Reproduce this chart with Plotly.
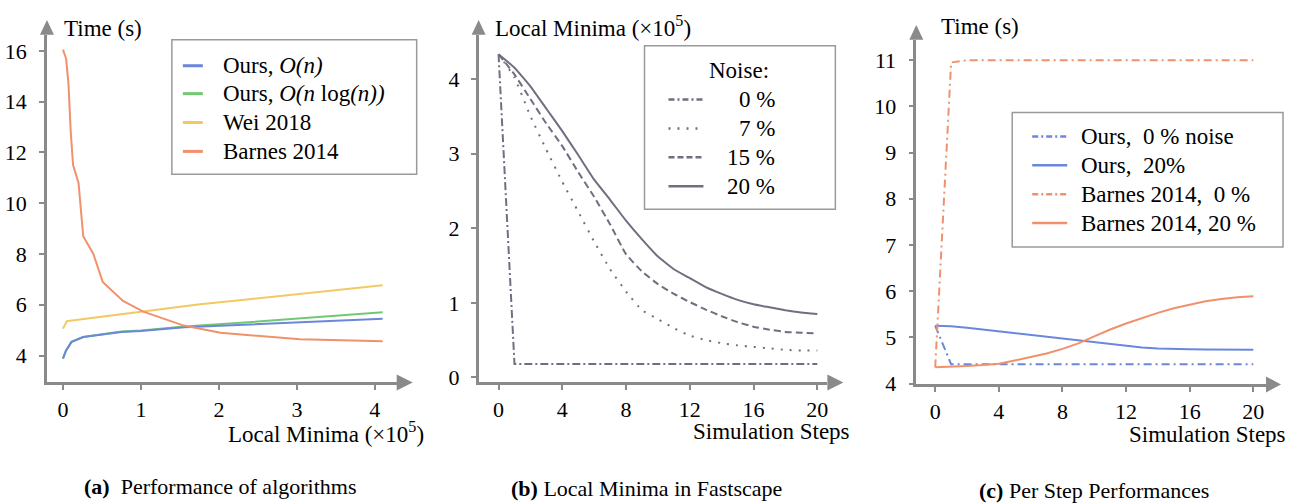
import plotly.graph_objects as go

# ---------------- data ----------------
# (a) Performance of algorithms: x = local minima (x1e5), y = time (s)
a_ours_n_x = [0, 0.04, 0.11, 0.26, 0.75, 1.0, 1.56, 2.33, 4.1]
a_ours_n_y = [3.88, 4.2, 4.54, 4.73, 4.93, 4.97, 5.11, 5.21, 5.45]
a_ours_nlogn_x = [0, 0.04, 0.11, 0.26, 0.75, 1.0, 1.56, 2.33, 4.1]
a_ours_nlogn_y = [3.88, 4.2, 4.54, 4.73, 4.95, 4.99, 5.14, 5.30, 5.71]
a_wei_x = [0, 0.05, 0.24, 0.75, 1.01, 1.76, 2.33, 4.1]
a_wei_y = [5.06, 5.35, 5.43, 5.62, 5.73, 6.02, 6.20, 6.77]
a_barnes_x = [0, 0.04, 0.07, 0.1, 0.13, 0.2, 0.26, 0.39, 0.51, 0.77, 1.03, 1.55, 2.02, 3.04, 4.1]
a_barnes_y = [16.05, 15.7, 14.75, 12.8, 11.5, 10.8, 8.7, 8.0, 6.9, 6.15, 5.73, 5.18, 4.9, 4.64, 4.56]

# (b) Local minima in Fastscape: x = simulation step, y = local minima (x1e5)
steps = list(range(21))
b_noise0 = [4.33, 0.18, 0.18, 0.18, 0.18, 0.18, 0.18, 0.18, 0.18, 0.18, 0.18,
            0.18, 0.18, 0.18, 0.18, 0.18, 0.18, 0.18, 0.18, 0.18, 0.18]
b_noise7 = [4.33, 4.02, 3.50, 3.05, 2.62, 2.22, 1.82, 1.45, 1.15, 0.90, 0.78,
            0.66, 0.56, 0.50, 0.46, 0.43, 0.41, 0.39, 0.37, 0.36, 0.36]
b_noise15 = [4.33, 4.06, 3.73, 3.40, 3.10, 2.75, 2.42, 2.05, 1.65, 1.42, 1.25,
             1.12, 1.01, 0.91, 0.82, 0.74, 0.68, 0.64, 0.61, 0.60, 0.59]
b_noise20 = [4.33, 4.15, 3.90, 3.60, 3.30, 2.98, 2.65, 2.38, 2.10, 1.85, 1.62,
             1.45, 1.33, 1.21, 1.12, 1.04, 0.98, 0.94, 0.90, 0.87, 0.85]

# (c) Per step performances: x = simulation step, y = time (s)
c_ours0 = [5.25, 4.42, 4.42, 4.42, 4.42, 4.42, 4.42, 4.42, 4.42, 4.42, 4.42,
           4.42, 4.42, 4.42, 4.42, 4.42, 4.42, 4.42, 4.42, 4.42, 4.42]
c_ours20 = [5.25, 5.24, 5.21, 5.17, 5.13, 5.09, 5.05, 5.01, 4.97, 4.93, 4.89,
            4.85, 4.81, 4.78, 4.76, 4.745, 4.74, 4.735, 4.73, 4.73, 4.73]
c_barnes0 = [4.35, 10.95, 11.0, 11.0, 11.0, 11.0, 11.0, 11.0, 11.0, 11.0, 11.0,
             11.0, 11.0, 11.0, 11.0, 11.0, 11.0, 11.0, 11.0, 11.0, 11.0]
c_barnes20 = [4.35, 4.36, 4.38, 4.40, 4.43, 4.50, 4.57, 4.65, 4.75, 4.87, 5.02,
              5.17, 5.30, 5.42, 5.53, 5.63, 5.71, 5.78, 5.83, 5.87, 5.89]

legend_a = ["Ours, <i>O(n)</i>", "Ours, <i>O(n</i> log<i>(n))</i>", "Wei 2018", "Barnes 2014"]
legend_b = ["0 %", "7 %", "15 %", "20 %"]
legend_c = ["Ours,\u00a0 0 % noise", "Ours,\u00a0 20%", "Barnes 2014,\u00a0 0 %", "Barnes 2014, 20 %"]

# ---------------- style ----------------
W, H = 1292, 503      # reference pixel grid used for placement (as fractions)
FIG_H = 513           # figure height
FONT = "Liberation Serif, Times New Roman, serif"
AX = "#8a8a8a"
BLUE = "#6b87dc"
GREEN = "#72c872"
YELLOW = "#f2c963"
ORANGE = "#f0916c"
GREY = "#6f6f80"

def fx(x):
    return x / W

def fy(y):
    return 1 - y / H

fig = go.Figure()

# panel a
fig.add_trace(go.Scatter(x=a_ours_nlogn_x, y=a_ours_nlogn_y, mode="lines", line=dict(color=GREEN, width=2), xaxis="x", yaxis="y"))
fig.add_trace(go.Scatter(x=a_ours_n_x, y=a_ours_n_y, mode="lines", line=dict(color=BLUE, width=2), xaxis="x", yaxis="y"))
fig.add_trace(go.Scatter(x=a_wei_x, y=a_wei_y, mode="lines", line=dict(color=YELLOW, width=2), xaxis="x", yaxis="y"))
fig.add_trace(go.Scatter(x=a_barnes_x, y=a_barnes_y, mode="lines", line=dict(color=ORANGE, width=2), xaxis="x", yaxis="y"))

# panel b
DASH_B = ["8px,3px,2px,3px", "2px,7px", "7px,4px", "solid"]
SHAPE_B = ["linear", "spline", "spline", "spline"]
for ys, d, shp in zip([b_noise0, b_noise7, b_noise15, b_noise20], DASH_B, SHAPE_B):
    line = dict(color=GREY, width=2, dash=d, shape=shp)
    if shp == "spline":
        line["smoothing"] = 0.3
    fig.add_trace(go.Scatter(x=steps, y=ys, mode="lines", line=line, xaxis="x2", yaxis="y2"))

# panel c
DASH_C = ["8px,4px,2px,4px", "solid", "8px,4px,2px,4px", "solid"]
COL_C = [BLUE, BLUE, ORANGE, ORANGE]
for ys, d, c in zip([c_ours0, c_ours20, c_barnes0, c_barnes20], DASH_C, COL_C):
    fig.add_trace(go.Scatter(x=steps, y=ys, mode="lines", line=dict(color=c, width=2, dash=d),
                             xaxis="x3", yaxis="y3"))

axis_common = dict(showgrid=False, zeroline=False, showline=True, linecolor=AX, linewidth=2.5,
                   ticks="outside", ticklen=5, tickwidth=2, tickcolor=AX,
                   tickfont=dict(family=FONT, size=22, color="black"))

fig.update_layout(
    width=W, height=FIG_H, margin=dict(l=0, r=0, t=0, b=0),
    paper_bgcolor="white", plot_bgcolor="white", showlegend=False,
    xaxis=dict(domain=[fx(47), fx(397)], range=[-0.205, 4.28], tickvals=[0, 1, 2, 3, 4],
               anchor="y", ticklabelstandoff=0, **axis_common),
    yaxis=dict(domain=[fy(384), fy(35)], range=[2.94, 16.63], tickvals=[4, 6, 8, 10, 12, 14, 16],
               anchor="x", ticklabelstandoff=8, **axis_common),
    xaxis2=dict(domain=[fx(479), fx(828)], range=[-1.25, 20.63], tickvals=[0, 4, 8, 12, 16, 20],
                anchor="y2", ticklabelstandoff=0, **axis_common),
    yaxis2=dict(domain=[fy(384), fy(35)], range=[-0.067, 4.59], tickvals=[0, 1, 2, 3, 4],
                anchor="x2", ticklabelstandoff=7, **axis_common),
    xaxis3=dict(domain=[fx(917), fx(1267)], range=[-1.19, 20.8], tickvals=[0, 4, 8, 12, 16, 20],
                anchor="y3", ticklabelstandoff=0, **axis_common),
    yaxis3=dict(domain=[fy(386), fy(40)], range=[3.98, 11.44], tickvals=[4, 5, 6, 7, 8, 9, 10, 11],
                anchor="x3", ticklabelstandoff=8, **axis_common),
)

shapes = []
annotations = []

def arrow_up(x, ybase, ytip, hw=7):
    shapes.append(dict(type="path", xref="paper", yref="paper", line=dict(width=0), fillcolor=AX,
                       path=f"M {fx(x-hw)},{fy(ybase)} L {fx(x+hw)},{fy(ybase)} L {fx(x)},{fy(ytip)} Z"))

def arrow_right(xbase, xtip, y, hh=8):
    shapes.append(dict(type="path", xref="paper", yref="paper", line=dict(width=0), fillcolor=AX,
                       path=f"M {fx(xbase)},{fy(y-hh)} L {fx(xbase)},{fy(y+hh)} L {fx(xtip)},{fy(y)} Z"))

arrow_up(47, 35, 20)
arrow_right(397, 413, 384)
arrow_up(479, 35, 20)
arrow_right(828, 844, 384)
arrow_up(917, 40, 25)
arrow_right(1267, 1282, 386)

def text(x, y, s, size=23, xanchor="left"):
    annotations.append(dict(x=fx(x), y=fy(y), xref="paper", yref="paper", text=s, showarrow=False,
                            xanchor=xanchor, yanchor="middle", font=dict(family=FONT, size=size, color="black")))

# axis titles
text(62, 29, "Time (s)")
text(426, 434, "Local Minima (×10<sup>5</sup>)", xanchor="right")
text(493, 27, "Local Minima (×10<sup>5</sup>)")
text(853, 433, "Simulation Steps", xanchor="right")
text(940, 27, "Time (s)")
text(1289, 436, "Simulation Steps", xanchor="right")

# captions
text(220, 488, "<b>(a)</b>\u00a0 Performance of algorithms", size=22, xanchor="center")
text(647, 490, "<b>(b)</b> Local Minima in Fastscape", size=22, xanchor="center")
text(1095, 492, "<b>(c)</b> Per Step Performances", size=22, xanchor="center")

def box(x0, y0, x1, y1):
    shapes.append(dict(type="rect", xref="paper", yref="paper", x0=fx(x0), x1=fx(x1), y0=fy(y1), y1=fy(y0),
                       line=dict(color="#9a9a9a", width=1.5), fillcolor="white", layer="above"))

def sample(x0, x1, y, color, dash, width=3):
    shapes.append(dict(type="line", xref="paper", yref="paper", x0=fx(x0), x1=fx(x1), y0=fy(y), y1=fy(y),
                       line=dict(color=color, width=width, dash=dash), layer="above"))

# legend a
box(172, 40, 417, 175)
for lab, col, yy in zip(legend_a, [BLUE, GREEN, YELLOW, ORANGE], [66, 94, 123, 152]):
    sample(183, 203, yy, col, "solid")
    text(221, yy, lab)

# legend b
box(645, 46, 836, 210)
text(740, 71, "Noise:", xanchor="center")
for lab, d, yy in zip(legend_b, ["6px,3px,2px,3px", "2px,7px", "6px,3px", "solid"], [100, 129, 158, 187]):
    sample(669, 704, yy, GREY, d, width=2.5)
    text(778, yy, lab, xanchor="right")

# legend c
box(1013, 113, 1284, 248)
for lab, d, col, yy in zip(legend_c, ["6px,3px,2px,3px", "solid", "6px,3px,2px,3px", "solid"],
                           [BLUE, BLUE, ORANGE, ORANGE], [137, 166, 195, 224]):
    sample(1033, 1068, yy, col, d, width=2.5)
    text(1080, yy, lab)

fig.update_layout(shapes=shapes, annotations=annotations)

POST = ("document.documentElement.style.margin='0';document.body.style.margin='0';"
        "document.documentElement.style.overflow='hidden';document.body.style.overflow='hidden';")
fig.write_html("out.html", config={"displayModeBar": False}, post_script=POST)
